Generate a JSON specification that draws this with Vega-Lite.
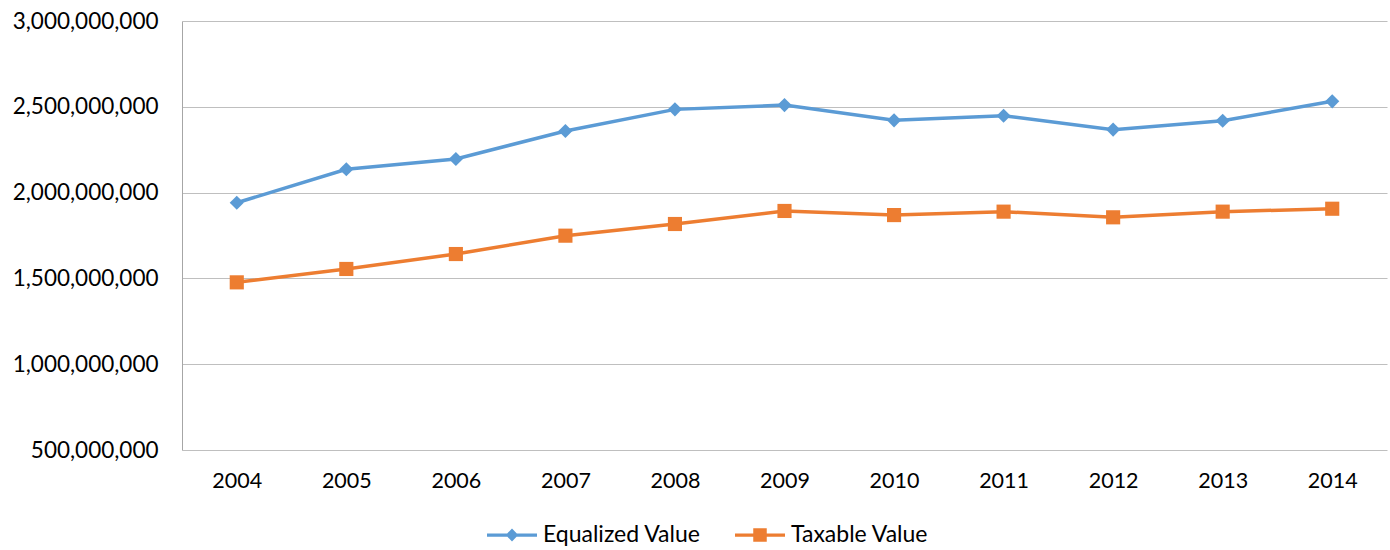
{
  "$schema": "https://vega.github.io/schema/vega-lite/v6.json",
  "width": 1205,
  "height": 429,
  "autosize": "none",
  "padding": {"left": 182, "top": 21, "right": 3, "bottom": 100},
  "background": "white",
  "config": {"view": {"stroke": null}, "font": "Lato"},
  "data": {
    "values": [
      {"year": "2004", "series": "Equalized Value", "value": 1941000000},
      {"year": "2005", "series": "Equalized Value", "value": 2136000000},
      {"year": "2006", "series": "Equalized Value", "value": 2196000000},
      {"year": "2007", "series": "Equalized Value", "value": 2359000000},
      {"year": "2008", "series": "Equalized Value", "value": 2485000000},
      {"year": "2009", "series": "Equalized Value", "value": 2510000000},
      {"year": "2010", "series": "Equalized Value", "value": 2421000000},
      {"year": "2011", "series": "Equalized Value", "value": 2448000000},
      {"year": "2012", "series": "Equalized Value", "value": 2367000000},
      {"year": "2013", "series": "Equalized Value", "value": 2419000000},
      {"year": "2014", "series": "Equalized Value", "value": 2532000000},
      {"year": "2004", "series": "Taxable Value", "value": 1477000000},
      {"year": "2005", "series": "Taxable Value", "value": 1555000000},
      {"year": "2006", "series": "Taxable Value", "value": 1642000000},
      {"year": "2007", "series": "Taxable Value", "value": 1749000000},
      {"year": "2008", "series": "Taxable Value", "value": 1817000000},
      {"year": "2009", "series": "Taxable Value", "value": 1893000000},
      {"year": "2010", "series": "Taxable Value", "value": 1869000000},
      {"year": "2011", "series": "Taxable Value", "value": 1889000000},
      {"year": "2012", "series": "Taxable Value", "value": 1856000000},
      {"year": "2013", "series": "Taxable Value", "value": 1889000000},
      {"year": "2014", "series": "Taxable Value", "value": 1906000000}
    ]
  },
  "encoding": {
    "x": {
      "field": "year",
      "type": "ordinal",
      "scale": {"type": "point", "padding": 0.5},
      "axis": {
        "title": null,
        "labelAngle": 0,
        "ticks": false,
        "domain": false,
        "grid": false,
        "labelFont": "Lato",
        "labelFontSize": 21.5,
        "labelColor": "#000000",
        "labelPadding": 20
      }
    },
    "y": {
      "field": "value",
      "type": "quantitative",
      "scale": {"domain": [500000000, 3000000000], "nice": false, "zero": false},
      "axis": {
        "title": null,
        "values": [500000000, 1000000000, 1500000000, 2000000000, 2500000000, 3000000000],
        "format": ",d",
        "ticks": false,
        "domain": true,
        "domainColor": "#A6A6A6",
        "domainWidth": 1,
        "grid": true,
        "gridColor": "#BFBFBF",
        "gridWidth": 1,
        "labelFont": "Lato",
        "labelFontSize": 22.5,
        "labelColor": "#000000",
        "labelPadding": 24
      }
    },
    "color": {
      "field": "series",
      "type": "nominal",
      "scale": {"domain": ["Equalized Value", "Taxable Value"], "range": ["#5B9BD5", "#ED7D31"]},
      "legend": {
        "orient": "none",
        "legendX": 305,
        "legendY": 489,
        "direction": "horizontal",
        "title": null,
        "symbolSize": 2500,
        "symbolStrokeWidth": 0,
        "labelFont": "Lato",
        "labelFontSize": 23,
        "labelColor": "#000000",
        "labelOffset": 6,
        "columnPadding": 34
      }
    }
  },
  "layer": [
    {"mark": {"type": "line", "strokeWidth": 3.5}},
    {
      "mark": {"type": "point", "filled": true, "opacity": 1, "size": 200},
      "encoding": {
        "shape": {
          "condition": {"test": "datum.series === 'Equalized Value'", "value": "diamond"},
          "value": "square"
        }
      }
    },
    {
      "transform": [{"filter": "false"}],
      "mark": {"type": "point", "filled": true, "opacity": 1},
      "encoding": {
        "shape": {
          "field": "series",
          "type": "nominal",
          "scale": {
            "domain": ["Equalized Value", "Taxable Value"],
            "range": [
              "M-1,-0.065H1V0.065H-1Z M0,-0.26L0.25,0L0,0.26L-0.25,0Z",
              "M-1,-0.065H1V0.065H-1Z M-0.27,-0.27H0.27V0.27H-0.27Z"
            ]
          },
          "legend": {
            "orient": "none",
            "legendX": 305,
            "legendY": 489,
            "direction": "horizontal",
            "title": null,
            "symbolSize": 2500,
            "symbolStrokeWidth": 0,
            "labelFont": "Lato",
            "labelFontSize": 23,
            "labelColor": "#000000",
            "labelOffset": 6,
            "columnPadding": 34
          }
        }
      }
    }
  ]
}
